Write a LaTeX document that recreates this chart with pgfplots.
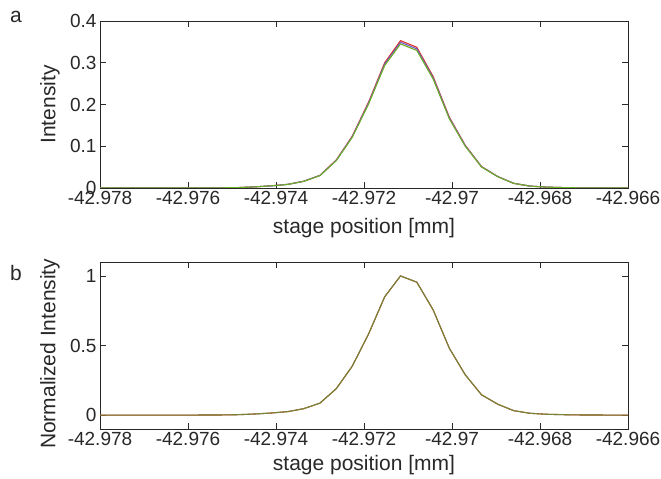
\documentclass[border=0pt]{standalone}
\usepackage{pgfplots}
\pgfplotsset{compat=1.18}
\usepackage{pgfplotstable}
\usepackage{fontspec}
\setmainfont{Liberation Sans}
\definecolor{mred}{RGB}{220,50,40}
\definecolor{mblue}{RGB}{110,90,200}
\definecolor{mgreen}{RGB}{110,175,40}
\definecolor{molive}{RGB}{112,135,55}
\definecolor{mgray}{RGB}{40,40,40}

% x [mm], red, blue, green intensities
\pgfplotstableread{
x        r       b       g
-42.97814 0      0      0
-42.97777 0      0      0
-42.97741 0      0      0
-42.97704 0      0      0
-42.97667 0      0      0
-42.97630 0      0      0
-42.97594 0      0      0
-42.97557 0.0002 0.0002 0.0002
-42.97520 0.0004 0.0004 0.0004
-42.97484 0.0011 0.0010 0.0010
-42.97447 0.0028 0.0028 0.0028
-42.97410 0.0053 0.0052 0.0052
-42.97373 0.0088 0.0087 0.0086
-42.97337 0.0162 0.0161 0.0159
-42.97300 0.0304 0.0300 0.0297
-42.97263 0.0671 0.0663 0.0656
-42.97227 0.1236 0.1222 0.1208
-42.97190 0.2047 0.2024 0.2001
-42.97153 0.3001 0.2967 0.2933
-42.97117 0.3530 0.3490 0.3450
-42.97080 0.3371 0.3333 0.3295
-42.97043 0.2672 0.2642 0.2612
-42.97006 0.1694 0.1675 0.1656
-42.96970 0.1024 0.1012 0.1001
-42.96933 0.0515 0.0510 0.0504
-42.96896 0.0275 0.0272 0.0269
-42.96860 0.0113 0.0112 0.0110
-42.96823 0.0046 0.0045 0.0045
-42.96786 0.0021 0.0021 0.0021
-42.96750 0.0011 0.0010 0.0010
-42.96713 0.0004 0.0004 0.0004
-42.96676 0.0002 0.0002 0.0002
-42.96640 0      0      0
-42.96603 0      0      0
-42.96566 0      0      0
}\intens

% x [mm], normalized intensity
\pgfplotstableread{
x        n
-42.97814 0
-42.97777 0
-42.97741 0
-42.97704 0
-42.97667 0
-42.97630 0
-42.97594 0
-42.97557 0.0005
-42.97520 0.001
-42.97484 0.003
-42.97447 0.008
-42.97410 0.015
-42.97373 0.025
-42.97337 0.046
-42.97300 0.086
-42.97263 0.19
-42.97227 0.35
-42.97190 0.58
-42.97153 0.85
-42.97117 1.0
-42.97080 0.955
-42.97043 0.757
-42.97006 0.48
-42.96970 0.29
-42.96933 0.146
-42.96896 0.078
-42.96860 0.032
-42.96823 0.013
-42.96786 0.006
-42.96750 0.003
-42.96713 0.001
-42.96676 0.0005
-42.96640 0
-42.96603 0
-42.96566 0
}\norm

\pgfplotsset{
  mystyle/.style={
    scale only axis, width=528pt,
    xmin=-42.978, xmax=-42.966,
    xtick={-42.978,-42.976,-42.974,-42.972,-42.970,-42.968,-42.966},
    xticklabels={-42.978,-42.976,-42.974,-42.972,-42.97,-42.968,-42.966},
    tick align=inside, major tick length=6pt,
    tick style={mgray, line width=0.6pt},
    axis line style={mgray, line width=0.6pt},
    ticklabel style={font=\fontsize{19}{19}\selectfont, text=mgray},
    /pgf/number format/assume math mode=true,
    x tick label style={yshift=0pt},
    xlabel={stage position [mm]},
    xlabel style={font=\fontsize{21}{21}\selectfont, text=mgray, anchor=center},
    ylabel style={font=\fontsize{21}{21}\selectfont, text=mgray, anchor=center},
    scaled x ticks=false,
    every axis plot/.append style={line width=1.1pt, line join=round},
  }
}

\begin{document}
\begin{tikzpicture}[x=1pt,y=1pt]
\useasboundingbox (0,0) rectangle (661,479);
\node[font=\fontsize{21}{21}\selectfont, text=mgray] at (16,462) {a};
\node[font=\fontsize{21}{21}\selectfont, text=mgray] at (16,206) {b};

\begin{axis}[mystyle, at={(100pt,291pt)}, anchor=south west, height=167pt,
  ymin=0, ymax=0.4, ytick={0,0.1,0.2,0.3,0.4},
  yticklabels={0,0.1,0.2,0.3,0.4},
  xlabel style={at={(axis description cs:0.5,-0.24)}},
  ylabel style={at={(axis description cs:-0.095,0.5)}},
  ylabel={Intensity}]
\addplot[mred, no marks] table[x=x, y=r] {\intens};
\addplot[mblue, no marks] table[x=x, y=b] {\intens};
\addplot[mgreen, no marks] table[x=x, y=g] {\intens};
\end{axis}

\begin{axis}[mystyle, at={(100pt,50pt)}, anchor=south west, height=167pt,
  ymin=-0.1, ymax=1.1, ytick={0,0.5,1},
  yticklabels={0,0.5,1},
  xlabel style={at={(axis description cs:0.5,-0.215)}},
  ylabel style={at={(axis description cs:-0.095,0.45)}},
  ylabel={Normalized Intensity}]
\addplot[mred, no marks] table[x=x, y=n] {\norm};
\addplot[molive, no marks] table[x=x, y=n] {\norm};
\end{axis}
\end{tikzpicture}
\end{document}
